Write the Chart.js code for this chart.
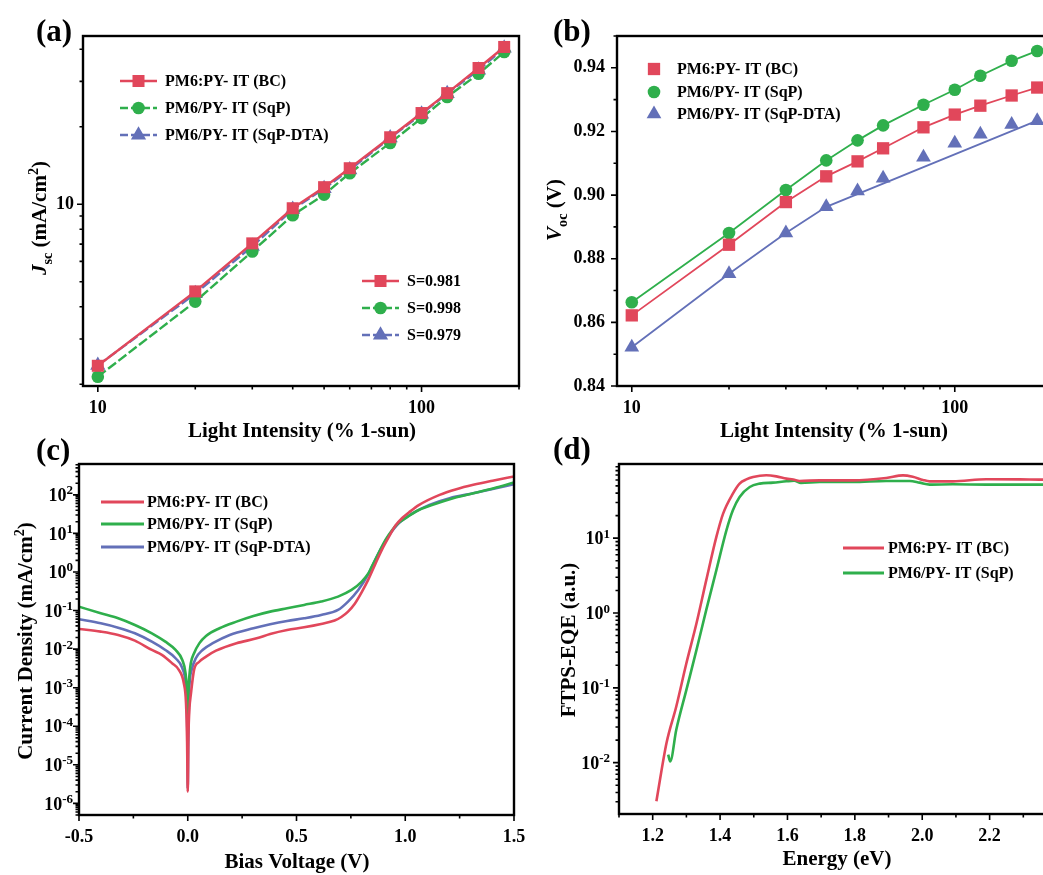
<!DOCTYPE html>
<html><head><meta charset="utf-8">
<script src="https://cdn.jsdelivr.net/npm/chart.js@4.4.0/dist/chart.umd.min.js"></script>
<style>
html,body{margin:0;padding:0;background:#fff;overflow:hidden;width:1043px;height:875px;}
canvas{position:absolute;left:0;top:0;}
</style></head><body>
<canvas id="ca" width="1100" height="875"></canvas>
<canvas id="cb" width="1100" height="875"></canvas>
<canvas id="cc" width="1100" height="875"></canvas>
<canvas id="cd" width="1100" height="875"></canvas>
<script>
// ---------- DATA ----------
// (a) Jsc vs light intensity
const intensity = [10, 20, 30, 40, 50, 60, 80, 100, 120, 150, 180];
const jscBC  = [2.36, 4.59, 7.05, 9.65, 11.65, 13.8, 18.2, 22.6, 27.0, 33.8, 40.8];
const jscSqP = [2.14, 4.19, 6.56, 9.06, 10.9, 13.2, 17.3, 21.6, 26.1, 32.1, 39.0];
const jscDTA = [2.37, 4.50, 6.87, 9.56, 11.5, 13.6, 18.1, 22.4, 26.9, 33.2, 40.4];
const slopeLabels = ['S=0.981', 'S=0.998', 'S=0.979'];
// (b) Voc vs light intensity
const vocBC  = [0.8622, 0.8844, 0.8978, 0.9059, 0.9106, 0.9147, 0.9213, 0.9253, 0.9281, 0.9313, 0.9338];
const vocSqP = [0.8663, 0.8881, 0.9016, 0.9109, 0.9172, 0.9219, 0.9284, 0.9331, 0.9375, 0.9422, 0.9453];
const vocDTA = [0.8522, 0.8753, 0.8881, 0.8963, 0.9013, 0.9053, 0.9119, 0.9163, 0.9191, 0.9222, 0.9234];
const fitDTAx = [10, 20, 30, 40, 180];
const fitDTAy = [0.8522, 0.8753, 0.8881, 0.8963, 0.9234];
// (c) dark J-V
const biasBC = [-0.5,-0.4,-0.32,-0.243,-0.165,-0.119,-0.072,-0.041,-0.018,-0.008,-0.003,0,0.003,0.008,0.014,0.029,0.053,0.084,0.13,0.224,0.317,0.379,0.457,0.535,0.613,0.675,0.706,0.737,0.768,0.8,0.831,0.862,0.893,0.924,0.955,0.986,1.017,1.064,1.158,1.235,1.313,1.407,1.5];
const jBC = [0.0333,0.0284,0.0233,0.0166,0.0095,0.0071,0.0043,0.0029,0.0013,0.0004,0.00004,2e-6,0.00005,0.0003,0.00065,0.0029,0.0047,0.0064,0.0091,0.0142,0.019,0.0247,0.0314,0.0368,0.0449,0.055,0.068,0.094,0.15,0.3,0.65,1.6,3.8,8,16,25,35,55,100,140,182,236,299];
const biasSqP = [-0.5,-0.4,-0.32,-0.243,-0.165,-0.103,-0.056,-0.025,-0.01,-0.004,0,0.003,0.006,0.014,0.029,0.053,0.084,0.146,0.224,0.302,0.379,0.457,0.535,0.613,0.691,0.753,0.8,0.831,0.846,0.877,0.909,0.94,0.971,1.002,1.049,1.126,1.22,1.313,1.407,1.5];
const jSqP = [0.126,0.085,0.063,0.0423,0.0257,0.0156,0.0095,0.0052,0.00235,0.0009,0.00018,0.0008,0.0016,0.0043,0.0078,0.0141,0.0219,0.0347,0.0516,0.0724,0.0937,0.1145,0.14,0.171,0.23,0.342,0.565,0.93,1.38,3.06,6.8,12.3,19.1,24.8,37,55,82,110,149,209];
const biasDTA = [-0.5,-0.4,-0.32,-0.243,-0.165,-0.103,-0.056,-0.025,-0.01,-0.004,-0.001,0,0.002,0.006,0.018,0.037,0.068,0.115,0.193,0.302,0.379,0.457,0.535,0.613,0.691,0.737,0.784,0.831,0.877,0.924,0.971,1.033,1.111,1.204,1.313,1.407,1.5];
const jDTA = [0.0593,0.0468,0.036,0.0257,0.0156,0.0095,0.0058,0.0032,0.0013,0.0003,0.00002,2.4e-6,0.00003,0.0007,0.0029,0.0058,0.0095,0.0142,0.0233,0.0347,0.044,0.0537,0.063,0.0769,0.104,0.171,0.342,0.89,3.06,8.6,18.4,33,55,82,110,143,189];
// (d) FTPS-EQE
const energyBC = [1.211,1.241,1.270,1.300,1.330,1.359,1.389,1.409,1.438,1.458,1.478,1.498,1.537,1.567,1.597,1.617,1.636,1.696,1.794,1.893,1.943,1.972,2.002,2.022,2.091,2.19,2.29,2.356,2.4];
const eqeBC = [0.00305,0.0183,0.0564,0.213,0.728,2.75,10.4,21.3,39.4,53.6,61,65.7,69.2,67,62.5,61,58.1,59.3,59.3,63.7,69,66,60,57.5,57.5,61.2,61,60.5,60.5];
const energySqP = [1.246,1.252,1.270,1.300,1.330,1.359,1.389,1.419,1.438,1.458,1.488,1.518,1.557,1.597,1.62,1.64,1.696,1.794,1.893,1.963,1.992,2.022,2.091,2.19,2.29,2.4];
const eqeSqP = [0.0128,0.0104,0.0275,0.094,0.321,1.1,3.74,12.8,23.6,35.6,48.3,53.6,55.2,57.5,58.5,54.7,56.3,56.3,58.1,58.1,55.2,52,52.5,52,52,52];
// tick labels
const names = ['PM6:PY- IT (BC)', 'PM6/PY- IT (SqP)', 'PM6/PY- IT (SqP-DTA)'];
const logLabelsX = [10, 100];
const logLabelsYa = [10];
const expsC = [-6,-5,-4,-3,-2,-1,0,1,2];
const expsD = [-2,-1,0,1];

// ---------- STYLE ----------
const FAM = '"Liberation Serif", "Times New Roman", serif';
const RED = '#E1475B', GREEN = '#2FAF4C', BLUE = '#6370B8';
const CW = 1100, CH = 875, WY = 70, HX = 40;

function minorLog(lo, hi) { const r = []; for (let e = -8; e <= 3; e++) for (let k = 2; k <= 9; k++) { const v = k * Math.pow(10, e); if (v >= lo && v <= hi) r.push(v); } return r; }
function pts(xs, ys) { return xs.map((x, i) => ({x, y: ys[i]})); }
function labelList(list) { return v => { const m = list.find(t => Math.abs(t - v) < 1e-6 * t); return m !== undefined ? String(m) : ''; }; }

function drawMarker(ctx, style, r, x, y, color) {
  ctx.save(); ctx.fillStyle = color; ctx.beginPath();
  if (style === 'rect') { const s = Math.SQRT1_2 * r; ctx.rect(x - s, y - s, 2 * s, 2 * s); }
  else if (style === 'circle') { ctx.arc(x, y, r, 0, Math.PI * 2); }
  else if (style === 'triangle') { let a = 0; ctx.moveTo(x + Math.sin(a) * r, y - Math.cos(a) * r); a += 2 * Math.PI / 3; ctx.lineTo(x + Math.sin(a) * r, y - Math.cos(a) * r); a += 2 * Math.PI / 3; ctx.lineTo(x + Math.sin(a) * r, y - Math.cos(a) * r); ctx.closePath(); }
  ctx.fill(); ctx.restore();
}
function drawRich(ctx, tx) {
  const size = tx.size;
  const items = tx.parts.map(p => { const s = (p.sub || p.sup) ? size * 0.68 : size; const f = (p.it ? 'italic ' : '') + 'bold ' + s + 'px ' + FAM; ctx.font = f; return {t: p.t, f, w: ctx.measureText(p.t).width, dy: p.sub ? size * 0.28 : (p.sup ? -size * 0.4 : 0)}; });
  const W = items.reduce((s, i) => s + i.w, 0);
  ctx.save(); ctx.translate(tx.x, tx.y); if (tx.rot) ctx.rotate(tx.rot);
  let x = tx.align === 'left' ? 0 : -W / 2;
  ctx.textBaseline = 'alphabetic'; ctx.textAlign = 'left'; ctx.fillStyle = '#000';
  items.forEach(i => { ctx.font = i.f; ctx.fillText(i.t, x, size * 0.34 + i.dy); x += i.w; });
  ctx.restore();
}
function drawLegendItem(ctx, it) {
  if (it.line) { ctx.save(); ctx.beginPath(); ctx.strokeStyle = it.color; ctx.lineWidth = it.lw; ctx.setLineDash(it.dash || []); ctx.moveTo(it.line[0], it.y); ctx.lineTo(it.line[1], it.y); ctx.stroke(); ctx.restore(); }
  if (it.marker) drawMarker(ctx, it.marker, it.r, it.mx, it.y, it.color);
  ctx.font = 'bold ' + it.size + 'px ' + FAM; ctx.fillStyle = '#000'; ctx.textBaseline = 'alphabetic'; ctx.textAlign = 'left';
  ctx.fillText(it.text, it.tx, it.y + it.size * 0.34);
}

const decor = {
  id: 'decor',
  afterDraw(chart, args, o) {
    const ctx = chart.ctx, a = chart.chartArea;
    ctx.save(); ctx.strokeStyle = '#000'; ctx.fillStyle = '#000';
    (o.ticks || []).forEach(t => {
      const sc = chart.scales[t.axis];
      ctx.beginPath(); ctx.lineWidth = 1.6;
      const mark = (v, len) => {
        const p = sc.getPixelForValue(v);
        if (t.axis === 'x') { if (p < a.left - 0.5 || p > a.right + 0.5) return; ctx.moveTo(p, a.bottom); ctx.lineTo(p, a.bottom + len); }
        else { if (p < a.top - 0.5 || p > a.bottom + 0.5) return; ctx.moveTo(a.left, p); ctx.lineTo(a.left - len, p); }
      };
      t.major.forEach(v => mark(v, 6)); t.minor.forEach(v => mark(v, 3.5));
      ctx.stroke();
    });
    ctx.lineWidth = 2.4; ctx.strokeRect(a.left, a.top, a.right - a.left, a.bottom - a.top);
    if (o.supY) {
      const s = o.supY, sc = chart.scales.y;
      s.exps.forEach(e => {
        const p = sc.getPixelForValue(Math.pow(10, e));
        const es = String(e);
        ctx.font = 'bold ' + s.size + 'px ' + FAM; const wb = ctx.measureText('10').width;
        ctx.font = 'bold ' + s.esize + 'px ' + FAM; const we = ctx.measureText(es).width;
        const xr = a.left - s.gap;
        ctx.textAlign = 'left'; ctx.textBaseline = 'alphabetic';
        ctx.font = 'bold ' + s.size + 'px ' + FAM; ctx.fillText('10', xr - we - wb, p + s.size * 0.34);
        ctx.font = 'bold ' + s.esize + 'px ' + FAM; ctx.fillText(es, xr - we, p - 0.5);
      });
    }
    (o.legend || []).forEach(it => drawLegendItem(ctx, it));
    (o.texts || []).forEach(tx => drawRich(ctx, tx));
    ctx.restore();
  }
};

function axis(isX, cfg) {
  const base = {
    afterFit(s) { if (isX) s.height = HX; else s.width = WY; },
    grid: {drawOnChartArea: false, drawTicks: true, tickLength: 5, color: 'rgba(0,0,0,0)'},
    border: {display: false}
  };
  const ticks = Object.assign({autoSkip: false, maxRotation: 0, minRotation: 0, color: '#000', font: {family: FAM, size: 18, weight: 'bold'}, padding: 7, includeBounds: false}, cfg.ticks || {});
  return Object.assign(base, cfg, {ticks});
}

function make(id, box, scales, datasets, decorOpts) {
  const [L, T, R, B] = box;
  return new Chart(document.getElementById(id), {
    type: 'line',
    data: {datasets},
    options: {
      responsive: false, animation: false, devicePixelRatio: 1, events: [],
      layout: {padding: {left: L - WY, top: T, right: CW - R, bottom: CH - B - HX}},
      scales,
      plugins: {legend: {display: false}, tooltip: {enabled: false}, decor: decorOpts}
    },
    plugins: [decor]
  });
}

function ds(xs, ys, color, o) {
  return Object.assign({data: pts(xs, ys), borderColor: color, backgroundColor: color, pointBackgroundColor: color, pointBorderWidth: 0, borderWidth: 2.4, tension: 0, pointRadius: 0}, o || {});
}

// ---------- (a) ----------
make('ca', [83, 36, 519, 386], {
  x: axis(true, {type: 'logarithmic', min: 9, max: 200, ticks: {callback: labelList(logLabelsX)}}),
  y: axis(false, {type: 'logarithmic', min: 1.97, max: 45, ticks: {callback: labelList(logLabelsYa), padding: 4}})
}, [
  ds(intensity, jscBC, RED, {pointStyle: 'rect', pointRadius: 8.5}),
  ds(intensity, jscSqP, GREEN, {pointStyle: 'circle', pointRadius: 6.3, borderDash: [10, 3]}),
  ds(intensity, jscDTA, BLUE, {pointStyle: 'triangle', pointRadius: 8.8, borderDash: [10, 3]})
], {
  ticks: [{axis: 'x', major: [10, 100], minor: [20, 30, 40, 50, 60, 70, 80, 90, 200]},
          {axis: 'y', major: [10], minor: minorLog(1.97, 45).filter(v => v !== 10)}],
  legend: [
    {y: 81, line: [120, 157], lw: 2.6, color: RED, marker: 'rect', r: 8.5, mx: 138.5, text: names[0], tx: 165, size: 16},
    {y: 108, line: [120, 157], lw: 2.6, dash: [8, 3], color: GREEN, marker: 'circle', r: 6.3, mx: 138.5, text: names[1], tx: 165, size: 16},
    {y: 135, line: [120, 157], lw: 2.6, dash: [8, 3], color: BLUE, marker: 'triangle', r: 8.8, mx: 138.5, text: names[2], tx: 165, size: 16},
    {y: 281, line: [362, 399], lw: 2.6, color: RED, marker: 'rect', r: 8.5, mx: 380.5, text: slopeLabels[0], tx: 407, size: 16},
    {y: 308, line: [362, 399], lw: 2.6, dash: [8, 3], color: GREEN, marker: 'circle', r: 6.3, mx: 380.5, text: slopeLabels[1], tx: 407, size: 16},
    {y: 335, line: [362, 399], lw: 2.6, dash: [8, 3], color: BLUE, marker: 'triangle', r: 8.8, mx: 380.5, text: slopeLabels[2], tx: 407, size: 16}
  ],
  texts: [
    {x: 36, y: 30, size: 31, align: 'left', parts: [{t: '(a)'}]},
    {x: 302, y: 430, size: 21, parts: [{t: 'Light Intensity (% 1-sun)'}]},
    {x: 39, y: 218, size: 21, rot: -Math.PI / 2, parts: [{t: 'J', it: true}, {t: 'sc', sub: true}, {t: ' (mA/cm'}, {t: '2', sup: true}, {t: ')'}]}
  ]
});

// ---------- (b) ----------
make('cb', [617, 36, 1052, 386], {
  x: axis(true, {type: 'logarithmic', min: 9, max: 200, ticks: {callback: labelList(logLabelsX)}}),
  y: axis(false, {type: 'linear', min: 0.84, max: 0.95, ticks: {stepSize: 0.02, callback: v => v.toFixed(2)}})
}, [
  ds(intensity, vocBC, RED, {pointStyle: 'rect', pointRadius: 8.7, borderWidth: 1.8}),
  ds(intensity, vocSqP, GREEN, {pointStyle: 'circle', pointRadius: 6.3, borderWidth: 1.8}),
  ds(fitDTAx, fitDTAy, BLUE, {borderWidth: 1.8}),
  ds(intensity, vocDTA, BLUE, {pointStyle: 'triangle', pointRadius: 8.5, showLine: false})
], {
  ticks: [{axis: 'x', major: [10, 100], minor: [20, 30, 40, 50, 60, 70, 80, 90, 200]},
          {axis: 'y', major: [0.84, 0.86, 0.88, 0.90, 0.92, 0.94], minor: [0.85, 0.87, 0.89, 0.91, 0.93, 0.95]}],
  legend: [
    {y: 69, color: RED, marker: 'rect', r: 8.7, mx: 654, text: names[0], tx: 677, size: 16},
    {y: 92, color: GREEN, marker: 'circle', r: 6.3, mx: 654, text: names[1], tx: 677, size: 16},
    {y: 114, color: BLUE, marker: 'triangle', r: 8.5, mx: 654, text: names[2], tx: 677, size: 16}
  ],
  texts: [
    {x: 553, y: 30, size: 31, align: 'left', parts: [{t: '(b)'}]},
    {x: 834, y: 430, size: 21, parts: [{t: 'Light Intensity (% 1-sun)'}]},
    {x: 554, y: 210, size: 21, rot: -Math.PI / 2, parts: [{t: 'V', it: true}, {t: 'oc', sub: true}, {t: ' (V)'}]}
  ]
});

// ---------- (c) ----------
make('cc', [79, 464, 514, 815], {
  x: axis(true, {type: 'linear', min: -0.5, max: 1.5, ticks: {stepSize: 0.5, callback: v => v.toFixed(1)}}),
  y: axis(false, {type: 'logarithmic', min: 5e-7, max: 630, ticks: {display: false}})
}, [
  ds(biasBC, jBC, RED, {borderWidth: 2.6, cubicInterpolationMode: 'monotone'}),
  ds(biasSqP, jSqP, GREEN, {borderWidth: 2.6, cubicInterpolationMode: 'monotone'}),
  ds(biasDTA, jDTA, BLUE, {borderWidth: 2.6, cubicInterpolationMode: 'monotone'})
], {
  ticks: [{axis: 'x', major: [-0.5, 0, 0.5, 1, 1.5], minor: [-0.25, 0.25, 0.75, 1.25]},
          {axis: 'y', major: expsC.map(e => Math.pow(10, e)), minor: minorLog(5e-7, 630)}],
  supY: {exps: expsC, size: 18, esize: 13, gap: 6},
  legend: [
    {y: 502, line: [101, 144], lw: 3, color: RED, text: names[0], tx: 147, size: 16},
    {y: 524, line: [101, 144], lw: 3, color: GREEN, text: names[1], tx: 147, size: 16},
    {y: 547, line: [101, 144], lw: 3, color: BLUE, text: names[2], tx: 147, size: 16}
  ],
  texts: [
    {x: 36, y: 449, size: 31, align: 'left', parts: [{t: '(c)'}]},
    {x: 297, y: 861, size: 21, parts: [{t: 'Bias Voltage (V)'}]},
    {x: 25, y: 641, size: 21, rot: -Math.PI / 2, parts: [{t: 'Current Density (mA/cm'}, {t: '2', sup: true}, {t: ')'}]}
  ]
});

// ---------- (d) ----------
make('cd', [619, 464, 1057, 814], {
  x: axis(true, {type: 'linear', min: 1.1, max: 2.4, ticks: {stepSize: 0.2, callback: v => v.toFixed(1)}}),
  y: axis(false, {type: 'logarithmic', min: 0.00206, max: 98, ticks: {display: false}})
}, [
  ds(energyBC, eqeBC, RED, {borderWidth: 2.6, cubicInterpolationMode: 'monotone'}),
  ds(energySqP, eqeSqP, GREEN, {borderWidth: 2.6, cubicInterpolationMode: 'monotone'})
], {
  ticks: [{axis: 'x', major: [1.2, 1.4, 1.6, 1.8, 2.0, 2.2, 2.4], minor: [1.1, 1.3, 1.5, 1.7, 1.9, 2.1, 2.3]},
          {axis: 'y', major: expsD.map(e => Math.pow(10, e)), minor: minorLog(0.00206, 98)}],
  supY: {exps: expsD, size: 18, esize: 13, gap: 9},
  legend: [
    {y: 548, line: [843, 884], lw: 3, color: RED, text: names[0], tx: 888, size: 16},
    {y: 573, line: [843, 884], lw: 3, color: GREEN, text: names[1], tx: 888, size: 16}
  ],
  texts: [
    {x: 553, y: 448, size: 31, align: 'left', parts: [{t: '(d)'}]},
    {x: 837, y: 858, size: 21, parts: [{t: 'Energy (eV)'}]},
    {x: 568, y: 640, size: 21, rot: -Math.PI / 2, parts: [{t: 'FTPS-EQE (a.u.)'}]}
  ]
});
</script>
</body></html>
